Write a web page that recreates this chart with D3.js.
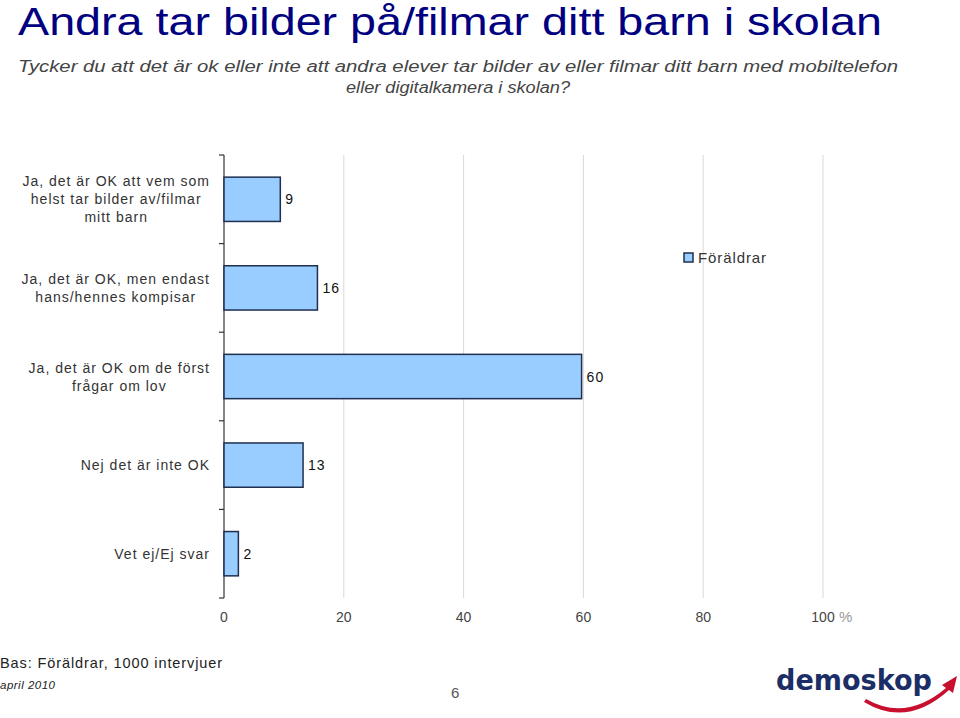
<!DOCTYPE html>
<html><head><meta charset="utf-8">
<script src="https://cdn.jsdelivr.net/npm/d3@7"></script>
<style>body{margin:0;background:#fff}svg{display:block}</style>
</head><body>
<svg id="c" width="960" height="718"></svg>
<script>
const categories = [
  ["Ja, det är OK att vem som", "helst tar bilder av/filmar", "mitt barn"],
  ["Ja, det är OK, men endast", "hans/hennes kompisar"],
  ["Ja, det är OK om de först", "frågar om lov"],
  ["Nej det är inte OK"],
  ["Vet ej/Ej svar"]
];
const values = [9.4, 15.6, 59.7, 13.2, 2.4];
const seriesName = "Föräldrar";
const xTicks = [0, 20, 40, 60, 80, 100];

const svg = d3.select("#c");
const keys = categories.map((c, i) => "c" + i);
const x = d3.scaleLinear().domain([0, 100]).range([224, 823]);
const y = d3.scaleBand().domain(keys).range([155, 598]).paddingInner(0.5).paddingOuter(0.25);

// Title
svg.append("text").attr("x", 18).attr("y", 35)
  .attr("font-family", "'Liberation Sans Narrow','Arial Narrow',sans-serif")
  .attr("font-size", 38).attr("fill", "#000080")
  .attr("textLength", 864).attr("lengthAdjust", "spacingAndGlyphs")
  .text("Andra tar bilder på/filmar ditt barn i skolan");

// Subtitle
const sub = ["Tycker du att det är ok eller inte att andra elever tar bilder av eller filmar ditt barn med mobiltelefon",
             "eller digitalkamera i skolan?"];
const subLen = [880, 224];
sub.forEach((s, i) => {
  svg.append("text").attr("x", 458).attr("y", 72 + i * 21)
    .attr("text-anchor", "middle")
    .attr("font-family", "'Liberation Sans Narrow','Arial Narrow',sans-serif")
    .attr("font-style", "italic").attr("font-size", 16).attr("fill", "#444")
    .attr("textLength", subLen[i]).attr("lengthAdjust", "spacingAndGlyphs")
    .text(s);
});

// Gridlines
svg.append("g").selectAll("line").data(xTicks.filter(d => d > 0)).join("line")
  .attr("x1", d => x(d)).attr("x2", d => x(d))
  .attr("y1", y.range()[0]).attr("y2", y.range()[1])
  .attr("stroke", "#d9d9d9").attr("stroke-width", 1);

// Y axis line and ticks
const step = y.step();
svg.append("line").attr("x1", x(0)).attr("x2", x(0))
  .attr("y1", y.range()[0]).attr("y2", y.range()[1])
  .attr("stroke", "#333").attr("stroke-width", 1.2);
const bounds = d3.range(keys.length + 1).map(i => y.range()[0] + i * step);
svg.append("g").selectAll("line").data(bounds).join("line")
  .attr("x1", x(0) - 5).attr("x2", x(0))
  .attr("y1", d => d).attr("y2", d => d)
  .attr("stroke", "#333").attr("stroke-width", 1.2);

// Bars
svg.append("g").selectAll("rect").data(values).join("rect")
  .attr("x", x(0)).attr("y", (d, i) => y(keys[i]))
  .attr("width", d => x(d) - x(0)).attr("height", y.bandwidth())
  .attr("fill", "#99ccff").attr("stroke", "#1f2f4f").attr("stroke-width", 1.5);

// Value labels
svg.append("g").selectAll("text").data(values).join("text")
  .attr("x", d => x(d) + 5).attr("y", (d, i) => y(keys[i]) + y.bandwidth() / 2 + 5)
  .attr("font-family", "'Liberation Sans',Arial,sans-serif").attr("font-size", 14)
  .attr("letter-spacing", 1).attr("fill", "#111")
  .text(d => Math.round(d));

// Category labels
const labFont = "'Liberation Sans',Arial,sans-serif";
categories.forEach((lines, i) => {
  const g = svg.append("g");
  const cy = y(keys[i]) + y.bandwidth() / 2;
  const lh = 18;
  const t = g.selectAll("text").data(lines).join("text")
    .attr("font-family", labFont).attr("font-size", 14).attr("letter-spacing", 1)
    .attr("fill", "#333")
    .attr("y", (d, j) => cy + (j - (lines.length - 1) / 2) * lh + 5)
    .text(d => d);
  let maxW = 0;
  t.each(function () { maxW = Math.max(maxW, this.getComputedTextLength()); });
  const right = 210;
  t.attr("text-anchor", "middle").attr("x", right - maxW / 2);
});

// X tick labels
svg.append("g").selectAll("text").data(xTicks).join("text")
  .attr("x", d => x(d)).attr("y", 622).attr("text-anchor", "middle")
  .attr("font-family", "'Liberation Sans Narrow','Arial Narrow',sans-serif").attr("font-size", 14)
  .attr("fill", "#444").text(d => d);
svg.append("text").attr("x", x(100) + 16).attr("y", 622)
  .attr("font-family", "'Liberation Sans',Arial,sans-serif").attr("font-size", 15)
  .attr("fill", "#999").text("%");

// Legend
svg.append("rect").attr("x", 684).attr("y", 253).attr("width", 9).attr("height", 9)
  .attr("fill", "#99ccff").attr("stroke", "#1f2f4f").attr("stroke-width", 1.5);
svg.append("text").attr("x", 698).attr("y", 263)
  .attr("font-family", labFont).attr("font-size", 15).attr("letter-spacing", 0.9)
  .attr("fill", "#333").text(seriesName);

// Footer
svg.append("text").attr("x", 0).attr("y", 668)
  .attr("font-family", labFont).attr("font-size", 14.5).attr("letter-spacing", 0.9)
  .attr("fill", "#222").text("Bas: Föräldrar, 1000 intervjuer");
svg.append("text").attr("x", 0).attr("y", 689)
  .attr("font-family", labFont).attr("font-size", 11.5).attr("font-style", "italic")
  .attr("letter-spacing", 0.5).attr("fill", "#222").text("april 2010");
svg.append("text").attr("x", 451).attr("y", 698)
  .attr("font-family", "'Liberation Sans Narrow','Arial Narrow',sans-serif").attr("font-size", 15)
  .attr("fill", "#555").text("6");

// Logo
svg.append("text").attr("x", 776).attr("y", 690)
  .attr("font-family", "'DejaVu Sans',sans-serif").attr("font-weight", "bold").attr("font-size", 29)
  .attr("fill", "#1b2f66").attr("textLength", 156).attr("lengthAdjust", "spacingAndGlyphs")
  .text("demoskop");
svg.append("path")
  .attr("d", "M866,699 Q906,722 946,688 L942,685 L957,676 L953,693 L949,690 Q907,728 864,702 Z")
  .attr("fill", "#c8102e");
</script>
</body></html>
